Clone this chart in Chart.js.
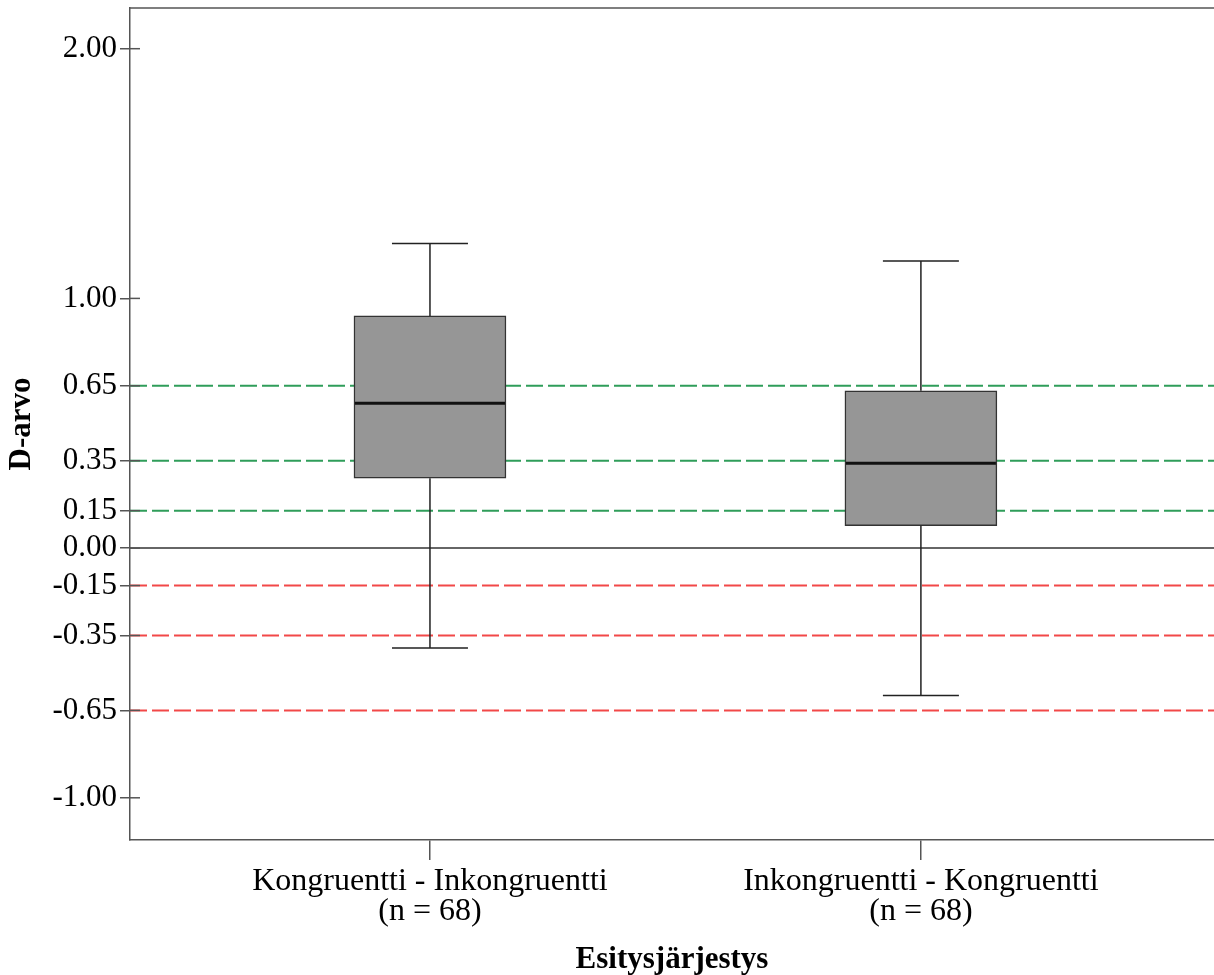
<!DOCTYPE html>
<html lang="fi">
<head>
<meta charset="UTF-8">
<title>D-arvo</title>
<script src="https://cdn.jsdelivr.net/npm/chart.js"></script>
<style>
  html, body { margin: 0; padding: 0; background: #fff; }
  #wrap { width: 1214px; height: 975px; }
</style>
</head>
<body>
<div id="wrap"><canvas id="chart"></canvas></div>
<script>
// Data
const groups = [['Kongruentti - Inkongruentti', '(n = 68)'], ['Inkongruentti - Kongruentti', '(n = 68)']];
const groupX = [1, 2];
const whiskerLow = [-0.40, -0.59];
const q1 = [0.28, 0.09];
const median = [0.58, 0.34];
const q3 = [0.93, 0.63];
const whiskerHigh = [1.22, 1.15];
const yTicks = [2.00, 1.00, 0.65, 0.35, 0.15, 0.00, -0.15, -0.35, -0.65, -1.00];
const goodLines = [0.65, 0.35, 0.15];
const badLines = [-0.15, -0.35, -0.65];

Chart.defaults.font.family = "'Liberation Serif', 'Times New Roman', serif";
Chart.defaults.color = '#000';

function hline(ctx, area, py, color) {
    ctx.strokeStyle = color;
    ctx.beginPath();
    ctx.moveTo(area.left, py);
    ctx.lineTo(area.right, py);
    ctx.stroke();
}

// reference lines, whiskers and medians
const boxParts = {
    id: 'boxParts',
    beforeDatasetsDraw(chart) {
        const { ctx, chartArea: a, scales: { y } } = chart;
        ctx.save();
        ctx.lineWidth = 2;
        ctx.setLineDash([17, 5]);
        goodLines.forEach(v => hline(ctx, a, y.getPixelForValue(v), '#2f9d5a'));
        badLines.forEach(v => hline(ctx, a, y.getPixelForValue(v), '#f24848'));
        ctx.setLineDash([]);
        ctx.lineWidth = 1.5;
        hline(ctx, a, y.getPixelForValue(0), '#333');
        hline(ctx, a, a.top, '#555');
        // tick stubs inside the plot
        ctx.strokeStyle = '#555';
        yTicks.forEach(v => {
            const py = y.getPixelForValue(v);
            ctx.beginPath();
            ctx.moveTo(a.left, py);
            ctx.lineTo(a.left + 10, py);
            ctx.stroke();
        });
        ctx.restore();
    },
    afterDatasetsDraw(chart) {
        const { ctx, scales: { x, y } } = chart;
        ctx.save();
        groupX.forEach((g, i) => {
            const px = x.getPixelForValue(g);
            const cap = 38;
            ctx.strokeStyle = '#222';
            ctx.lineWidth = 1.5;
            ctx.beginPath();
            ctx.moveTo(px, y.getPixelForValue(q3[i]));
            ctx.lineTo(px, y.getPixelForValue(whiskerHigh[i]));
            ctx.moveTo(px, y.getPixelForValue(q1[i]));
            ctx.lineTo(px, y.getPixelForValue(whiskerLow[i]));
            ctx.moveTo(px - cap, y.getPixelForValue(whiskerHigh[i]));
            ctx.lineTo(px + cap, y.getPixelForValue(whiskerHigh[i]));
            ctx.moveTo(px - cap, y.getPixelForValue(whiskerLow[i]));
            ctx.lineTo(px + cap, y.getPixelForValue(whiskerLow[i]));
            ctx.stroke();
            ctx.lineWidth = 3;
            ctx.strokeStyle = '#111';
            ctx.beginPath();
            ctx.moveTo(px - 75, y.getPixelForValue(median[i]));
            ctx.lineTo(px + 75, y.getPixelForValue(median[i]));
            ctx.stroke();
        });
        ctx.restore();
    }
};

new Chart(document.getElementById('chart'), {
    type: 'bar',
    data: {
        datasets: [{
            data: groupX.map((g, i) => ({ x: g, y: [q1[i], q3[i]] })),
            backgroundColor: '#969696',
            borderColor: '#333',
            borderWidth: 1.5,
            borderSkipped: false,
            barThickness: 152
        }]
    },
    options: {
        responsive: true,
        maintainAspectRatio: false,
        animation: false,
        layout: { padding: { top: 8, right: 0, left: 0, bottom: 0 } },
        plugins: { legend: { display: false }, tooltip: { enabled: false } },
        scales: {
            x: {
                type: 'linear',
                offset: false,
                min: 0.389,
                max: 2.597,
                afterBuildTicks: s => { s.ticks = groupX.map(v => ({ value: v })); },
                afterFit: s => { s.height = 135; s.paddingLeft = 0; s.paddingRight = 0; },
                ticks: {
                    autoSkip: false,
                    maxRotation: 0,
                    padding: 6,
                    font: { size: 32, lineHeight: 0.95 },
                    callback: v => groups[groupX.indexOf(v)]
                },
                grid: { offset: false, drawOnChartArea: false, drawTicks: true, tickLength: 20, color: '#555', lineWidth: 1.5 },
                border: { color: '#555', width: 1.5 },
                title: {
                    display: true,
                    text: 'Esitysjärjestys',
                    font: { size: 31, weight: 'bold', lineHeight: 1.0 },
                    padding: { top: 0, bottom: 0 }
                }
            },
            y: {
                min: -1.169,
                max: 2.163,
                afterBuildTicks: s => { s.ticks = yTicks.map(v => ({ value: v })); },
                afterFit: s => { s.width = 130; s.paddingTop = 0; s.paddingBottom = 0; },
                ticks: {
                    autoSkip: false,
                    padding: 3,
                    font: { size: 31 },
                    callback: v => v.toFixed(2)
                },
                grid: { drawOnChartArea: false, drawTicks: true, tickLength: 10, color: '#555', lineWidth: 1.5 },
                border: { color: '#555', width: 1.5 },
                title: {
                    display: true,
                    text: 'D-arvo',
                    font: { size: 31, weight: 'bold' },
                    padding: { top: 3, bottom: 0 }
                }
            }
        }
    },
    plugins: [boxParts]
});
</script>
</body>
</html>
